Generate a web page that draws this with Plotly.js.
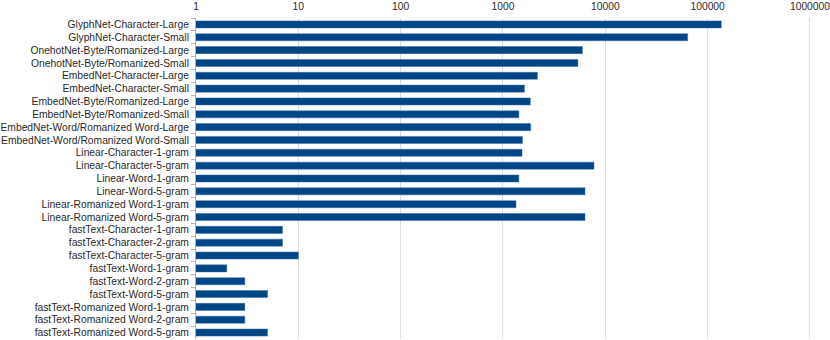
<!DOCTYPE html>
<html>
<head>
<meta charset="utf-8">
<script src="https://cdn.plot.ly/plotly-3.0.1.min.js"></script>
<style>
html,body{margin:0;padding:0;background:#fff;}
#chart{width:830px;height:340px;}
</style>
</head>
<body>
<div id="chart"></div>
<script>
const categories = [
  "GlyphNet-Character-Large",
  "GlyphNet-Character-Small",
  "OnehotNet-Byte/Romanized-Large",
  "OnehotNet-Byte/Romanized-Small",
  "EmbedNet-Character-Large",
  "EmbedNet-Character-Small",
  "EmbedNet-Byte/Romanized-Large",
  "EmbedNet-Byte/Romanized-Small",
  "EmbedNet-Word/Romanized Word-Large",
  "EmbedNet-Word/Romanized Word-Small",
  "Linear-Character-1-gram",
  "Linear-Character-5-gram",
  "Linear-Word-1-gram",
  "Linear-Word-5-gram",
  "Linear-Romanized Word-1-gram",
  "Linear-Romanized Word-5-gram",
  "fastText-Character-1-gram",
  "fastText-Character-2-gram",
  "fastText-Character-5-gram",
  "fastText-Word-1-gram",
  "fastText-Word-2-gram",
  "fastText-Word-5-gram",
  "fastText-Romanized Word-1-gram",
  "fastText-Romanized Word-2-gram",
  "fastText-Romanized Word-5-gram"
];
const values = [
  136000, 63800, 5970, 5400, 2170, 1620, 1850, 1430, 1865, 1550,
  1535, 7750, 1430, 6330, 1340, 6330,
  7, 7, 10, 2, 3, 5, 3, 3, 5
];
const tickValues = [1, 10, 100, 1000, 10000, 100000, 1000000];
const tickLabels = ["1", "10", "100", "1000", "10000", "100000", "1000000"];

const trace = {
  type: "bar",
  orientation: "h",
  y: categories,
  x: values,
  width: 0.55,
  marker: {color: "#004586", line: {color: "#3a6ea5", width: 0.5}},
  hoverinfo: "x+y"
};

const layout = {
  width: 830, height: 340,
  margin: {l: 196, r: 19, t: 18, b: 1, pad: 0},
  paper_bgcolor: "#ffffff",
  plot_bgcolor: "#ffffff",
  font: {family: "Liberation Sans, Arial, sans-serif", size: 10.3, color: "#2a2a2a"},
  showlegend: false,
  xaxis: {
    type: "log",
    range: [0, 6.01],
    side: "top",
    tickvals: tickValues,
    ticktext: tickLabels,
    showgrid: true,
    gridcolor: "#dddddd",
    gridwidth: 1,
    zeroline: false,
    showline: false,
    ticks: "",
    ticklabelstandoff: 5,
    ticklabeloverflow: "allow",
    tickfont: {size: 10.3, color: "#2a2a2a"}
  },
  yaxis: {
    type: "category",
    autorange: "reversed",
    showgrid: false,
    showline: true,
    linecolor: "#b3b3b3",
    linewidth: 1,
    ticks: "outside",
    tickson: "boundaries",
    ticklen: 4,
    tickcolor: "#b3b3b3",
    ticklabelstandoff: 4,
    tickfont: {size: 10.3, color: "#2a2a2a"}
  }
};

Plotly.newPlot("chart", [trace], layout, {staticPlot: true, displayModeBar: false});
</script>
</body>
</html>
